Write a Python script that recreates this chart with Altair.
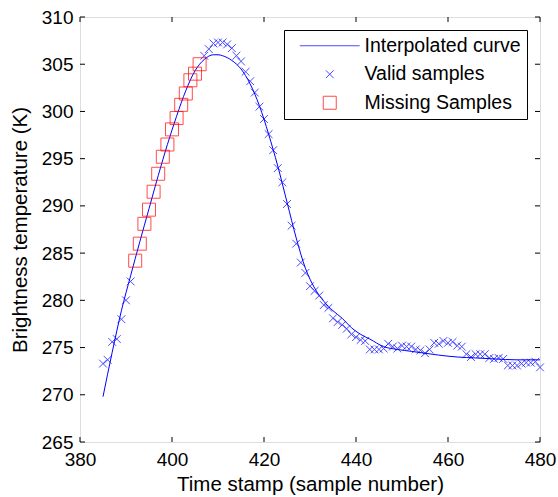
import altair as alt
import pandas as pd

# ---- data ----
valid_x = list(range(385, 392)) + list(range(407, 481))
valid_y = [273.3, 273.7, 275.6, 275.9, 278.0, 280.0, 282.0,
           305.9, 306.6, 307.2, 307.3, 307.3, 307.1, 306.7, 305.9, 305.3, 304.2,
           303.2, 302.0, 300.5, 299.2, 297.6, 295.9, 294.0, 292.5, 290.2, 287.9,
           286.0, 284.0, 282.9, 281.5, 281.0, 280.5, 279.5, 279.2, 278.1, 277.7,
           277.4, 277.0, 276.4, 276.1, 275.8, 275.7, 274.8, 274.8, 274.8, 274.9,
           275.4, 275.1, 274.9, 275.2, 275.1, 275.1, 274.8, 274.7, 274.4, 274.8,
           275.5, 275.4, 275.7, 275.5, 275.6, 275.2, 275.1, 274.3, 274.0, 274.3,
           274.3, 274.3, 273.9, 273.8, 273.9, 273.8, 273.1, 273.1, 273.1, 273.3,
           273.4, 273.4, 273.5, 272.9]

missing_x = list(range(392, 407))
missing_y = [284.2, 286.0, 288.1, 289.6, 291.5, 293.4, 295.2, 296.5, 298.1,
             299.3, 300.7, 301.9, 303.3, 304.0, 305.0]

curve_x = [385, 387, 389, 391, 393, 395, 397, 399, 401, 403, 405, 407, 409, 410,
           411, 413, 415, 417, 419, 421, 423, 425, 427, 429, 431, 433, 435, 437,
           439, 441, 443, 446, 449, 452, 455, 458, 462, 466, 470, 475, 480]
curve_y = [269.8, 274.5, 278.9, 282.6, 286.2, 289.7, 293.2, 296.5, 299.5, 302.2,
           304.3, 305.5, 306.0, 306.0, 305.9, 305.4, 304.5, 302.9, 300.6, 297.6,
           294.2, 290.4, 286.6, 283.4, 281.3, 279.9, 278.9, 278.1, 277.1, 276.4,
           275.9, 275.1, 274.8, 274.6, 274.4, 274.2, 274.0, 273.9, 273.8, 273.7,
           273.7]

x_ticks = [380, 400, 420, 440, 460, 480]
y_ticks = [265, 270, 275, 280, 285, 290, 295, 300, 305, 310]

series_names = ["Interpolated curve", "Valid samples", "Missing Samples"]

# ---- tables ----
curve_df = pd.DataFrame({"x": curve_x, "y": curve_y, "series": series_names[0]})
valid_df = pd.DataFrame({"x": valid_x, "y": valid_y, "series": series_names[1]})
missing_df = pd.DataFrame({"x": missing_x, "y": missing_y, "series": series_names[2]})
xt_df = pd.DataFrame({"x": x_ticks})
yt_df = pd.DataFrame({"y": y_ticks})

W, H = 460, 425
FONT = "Liberation Sans"

x_scale = alt.Scale(domain=[380, 480], nice=False)
y_scale = alt.Scale(domain=[265, 310], nice=False)

x_axis = alt.Axis(values=x_ticks, title="Time stamp (sample number)", grid=False,
                  domain=False, ticks=False, labelPadding=8, titlePadding=5,
                  labelFontSize=19, titleFontSize=20.5, labelFont=FONT, titleFont=FONT,
                  labelColor="black", titleColor="black", titleFontWeight="normal",
                  labelFlush=False)
y_axis = alt.Axis(values=y_ticks, title="Brightness temperature (K)", grid=False,
                  domain=False, ticks=False, labelPadding=7, titlePadding=11,
                  labelFontSize=19, titleFontSize=20.5, labelFont=FONT, titleFont=FONT,
                  labelColor="black", titleColor="black", titleFontWeight="normal",
                  labelFlush=False)

X_PATH = "M-0.6,-0.6L0.6,0.6M-0.6,0.6L0.6,-0.6"
LINE_PATH = "M-4.6,0L4.6,0"

color_scale = alt.Scale(domain=series_names, range=["#0000FF", "#0000FF", "#FF0000"])
shape_scale = alt.Scale(domain=series_names, range=[LINE_PATH, X_PATH, "square"])

legend = alt.Legend(title=None, orient="none", legendX=204, legendY=13,
                    fillColor="white", strokeColor="black", padding=6,
                    labelFontSize=19.5, labelFont=FONT, labelColor="black",
                    symbolSize=169, symbolStrokeWidth=1, symbolOffset=30,
                    labelOffset=25, rowPadding=7.5, symbolFillColor="transparent")

curve = alt.Chart(curve_df).mark_line(strokeWidth=1, interpolate="monotone").encode(
    x=alt.X("x:Q", scale=x_scale, axis=x_axis),
    y=alt.Y("y:Q", scale=y_scale, axis=y_axis),
    color=alt.Color("series:N", scale=color_scale, legend=legend),
)

valid = alt.Chart(valid_df).mark_point(filled=False, size=169, strokeWidth=1).encode(
    x="x:Q", y="y:Q",
    color=alt.Color("series:N", scale=color_scale, legend=legend),
    shape=alt.Shape("series:N", scale=shape_scale, legend=legend),
)

missing = alt.Chart(missing_df).mark_point(filled=False, size=169, strokeWidth=1).encode(
    x="x:Q", y="y:Q",
    color=alt.Color("series:N", scale=color_scale, legend=legend),
    shape=alt.Shape("series:N", scale=shape_scale, legend=legend),
)

TL = 5
bottom_ticks = alt.Chart(xt_df).mark_rule(color="black", strokeWidth=1).encode(
    x="x:Q", y=alt.value(H), y2=alt.value(H - TL))
top_ticks = alt.Chart(xt_df).mark_rule(color="black", strokeWidth=1).encode(
    x="x:Q", y=alt.value(0), y2=alt.value(TL))
left_ticks = alt.Chart(yt_df).mark_rule(color="black", strokeWidth=1).encode(
    y="y:Q", x=alt.value(0), x2=alt.value(TL))
right_ticks = alt.Chart(yt_df).mark_rule(color="black", strokeWidth=1).encode(
    y="y:Q", x=alt.value(W), x2=alt.value(W - TL))

chart = alt.layer(curve, valid, missing, bottom_ticks, top_ticks, left_ticks, right_ticks).properties(
    width=W, height=H,
    autosize=alt.AutoSizeParams(type="none"),
    padding={"left": 80, "top": 17, "right": 18, "bottom": 55},
).configure_view(stroke="black", strokeWidth=1).configure(background="white")

chart.save("out.html", embed_options={"renderer": "svg", "actions": False})
